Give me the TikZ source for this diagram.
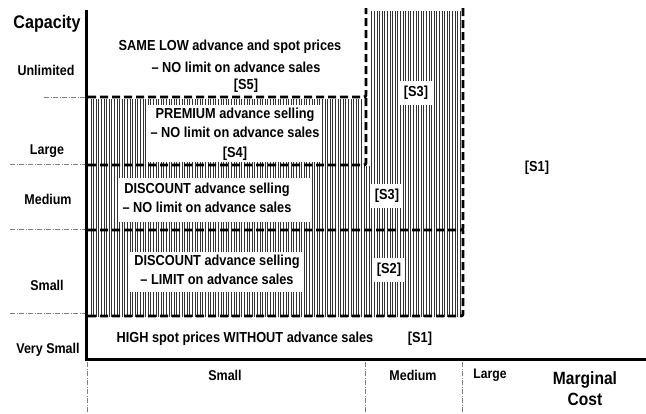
\documentclass[tikz,border=0pt]{standalone}
\usepackage{fontspec}
\setmainfont[FakeStretch=0.88]{Liberation Sans}
\usetikzlibrary{patterns.meta}
\begin{document}
\begin{tikzpicture}[x=1pt,y=-1pt,
  txt/.style={font=\fontsize{14.5}{19.5}\selectfont\bfseries, align=center, inner sep=0pt},
  lab/.style={font=\fontsize{14.2}{16}\selectfont\bfseries, inner sep=0pt},
  axlab/.style={font=\fontsize{18.3}{21}\selectfont\bfseries, inner sep=0pt, align=center},
  tag/.style={txt, fill=white, inner xsep=4pt, inner ysep=5pt},
  bnd/.style={line width=2.8pt, dash pattern=on 8pt off 4pt, rounded corners=2pt},
  sep/.style={black!50, line width=0.6pt, dash pattern=on 5pt off 1.5pt on 1pt off 1.5pt},
  hatch/.style={pattern={Lines[angle=90,distance=2.6pt,line width=0.7pt]}, pattern color=black!80}
]
\useasboundingbox (0,0) rectangle (646,413);

% hatched regions
\fill[hatch] (89,99) rectangle (364,316);
\fill[hatch] (370,11) rectangle (461,316);
\fill[hatch] (364,166) rectangle (370,316);

% white text panels
\fill[white] (148,105) rectangle (322,162);
\fill[white] (118,178) rectangle (310,222);
\fill[white] (128,252) rectangle (303,292);

% separators on the left
\draw[sep] (44,97) -- (85,97);
\draw[sep] (10,164) -- (85,164);
\draw[sep] (10,229) -- (85,229);
\draw[sep] (10,313) -- (85,313);
% separators below the axis
\draw[sep] (87,362) -- (87,413);
\draw[sep] (365,362) -- (365,413);
\draw[sep] (462,362) -- (462,413);

% dashed boundaries
\draw[bnd] (88,97) -| (366,8);
\draw[bnd] (88,165) -| (366,97);
\draw[bnd] (88,230) -| (463,8);
\draw[bnd] (88,316) -| (463,230);

% axes
\coordinate (ytop) at (86.5,10);
\coordinate (orig) at (86.5,359);
\coordinate (xend) at (646,359);
\draw[line width=3pt] (ytop) -- (orig) -- (xend);

% region texts
\node[txt] (s5a) at (230,47) {SAME LOW advance and spot prices};
\node[txt] (s5b) at (236,67) {– NO limit on advance sales};
\node[txt] (s5c) at (246,86) {[S5]};

\node[txt] (s4) at (235,134) {PREMIUM advance selling\\– NO limit on advance sales\\{[S4]}};
\node[txt] (s3m) at (207,198) {DISCOUNT advance selling\\– NO limit on advance sales};
\node[txt] (s2) at (217,270) {DISCOUNT advance selling\\– LIMIT on advance sales};
\node[txt] (s1b) at (245,339) {HIGH spot prices WITHOUT advance sales};

\node[tag] (s3u) at (416,93) {[S3]};
\node[tag] (s3c) at (387,196) {[S3]};
\node[tag] (s2t) at (389,270) {[S2]};
\node[txt] (s1c) at (420,339) {[S1]};
\node[txt] (s1r) at (537,168) {[S1]};

% axis labels
\node[axlab] (cap) at (47,24) {Capacity};
\node[lab] (yu) at (46,70) {Unlimited};
\node[lab] (yl) at (47,151) {Large};
\node[lab] (ym) at (48,199) {Medium};
\node[lab] (ys) at (47,285) {Small};
\node[lab] (yv) at (48,350) {Very Small};

\node[lab] (xs) at (225,375) {Small};
\node[lab] (xm) at (413,375) {Medium};
\node[lab, font=\fontsize{13.8}{16}\selectfont\bfseries] (xl) at (490,375) {Large};
\node[axlab, font=\fontsize{17.7}{21}\selectfont\bfseries] (mc) at (585,389) {Marginal\\Cost};
\end{tikzpicture}
\end{document}
